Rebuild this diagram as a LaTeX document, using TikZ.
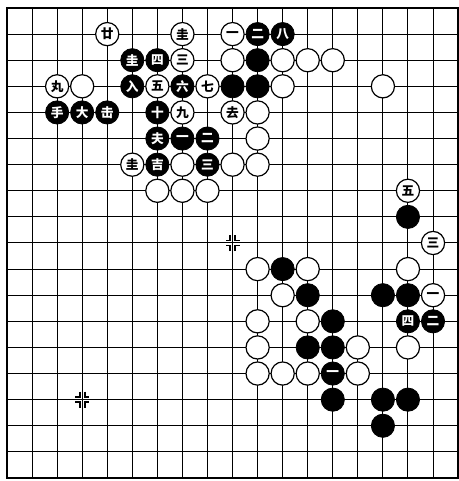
\documentclass[tikz,border=0pt]{standalone}
\usepackage{fontspec}
\newfontfamily\cjk{Noto Sans CJK SC}
\begin{document}
\begin{tikzpicture}[x=0.75pt,y=-0.75pt,
  gridline/.style={line width=0.75pt,black},
  edgeline/.style={line width=1.2pt,black},
  starmark/.style={line width=1.3pt,black},
  wst/.style={circle,draw=black,fill=white,line width=0.9pt,minimum size=17.4pt,inner sep=0pt,text=black,font=\cjk\bfseries\fontsize{9.5}{9.5}\selectfont},
  bst/.style={circle,draw=black,fill=black,line width=0.6pt,minimum size=17.4pt,inner sep=0pt,text=white,font=\cjk\bfseries\fontsize{9.5}{9.5}\selectfont}
]
\useasboundingbox (0,0) rectangle (459,481);
\fill[white] (0,0) rectangle (459,481);
% grid
\foreach \i in {1,...,17}{
  \draw[gridline] ({7+25.06*\i},8) -- ({7+25.06*\i},478);
  \draw[gridline] (7,{8+26.11*\i}) -- (458,{8+26.11*\i});
}
\draw[edgeline] (7,8) rectangle (458,478);
% star point marks
\foreach \px/\py in {232.5/243, 82.2/399.7}{
  \foreach \sx/\sy in {1/1,1/-1,-1/1,-1/-1}{
    \draw[starmark] ({\px+\sx*2.5},{\py+\sy*8}) -- ({\px+\sx*2.5},{\py+\sy*2.5}) -- ({\px+\sx*7},{\py+\sy*2.5});
  }
}
% white stones
\foreach \c/\r/\t in {4/1/廿, 7/1/圭, 9/1/一,
  7/2/三, 9/2/{}, 11/2/{}, 12/2/{}, 13/2/{},
  2/3/丸, 3/3/{}, 6/3/五, 8/3/七, 11/3/{}, 15/3/{},
  7/4/九, 9/4/去, 10/4/{},
  10/5/{},
  5/6/圭, 7/6/{}, 9/6/{}, 10/6/{},
  6/7/{}, 7/7/{}, 8/7/{}, 16/7/五,
  17/9/三,
  10/10/{}, 12/10/{}, 16/10/{},
  11/11/{}, 17/11/一,
  10/12/{}, 12/12/{},
  10/13/{}, 14/13/{}, 16/13/{},
  10/14/{}, 11/14/{}, 12/14/{}, 14/14/{}}{
  \node[wst] (w-\c-\r) at ({7+25.06*\c},{8+26.11*\r}) {\t};
}
% black stones
\foreach \c/\r/\t in {10/1/二, 11/1/八,
  5/2/圭, 6/2/四, 10/2/{},
  5/3/入, 7/3/六, 9/3/{}, 10/3/{},
  2/4/手, 3/4/大, 4/4/击, 6/4/十,
  6/5/夫, 7/5/一, 8/5/二,
  6/6/吉, 8/6/三,
  16/8/{},
  11/10/{},
  12/11/{}, 15/11/{}, 16/11/{},
  13/12/{}, 16/12/四, 17/12/二,
  12/13/{}, 13/13/{},
  13/14/一,
  13/15/{}, 15/15/{}, 16/15/{},
  15/16/{}}{
  \node[bst] (b-\c-\r) at ({7+25.06*\c},{8+26.11*\r}) {\t};
}
\end{tikzpicture}
\end{document}
